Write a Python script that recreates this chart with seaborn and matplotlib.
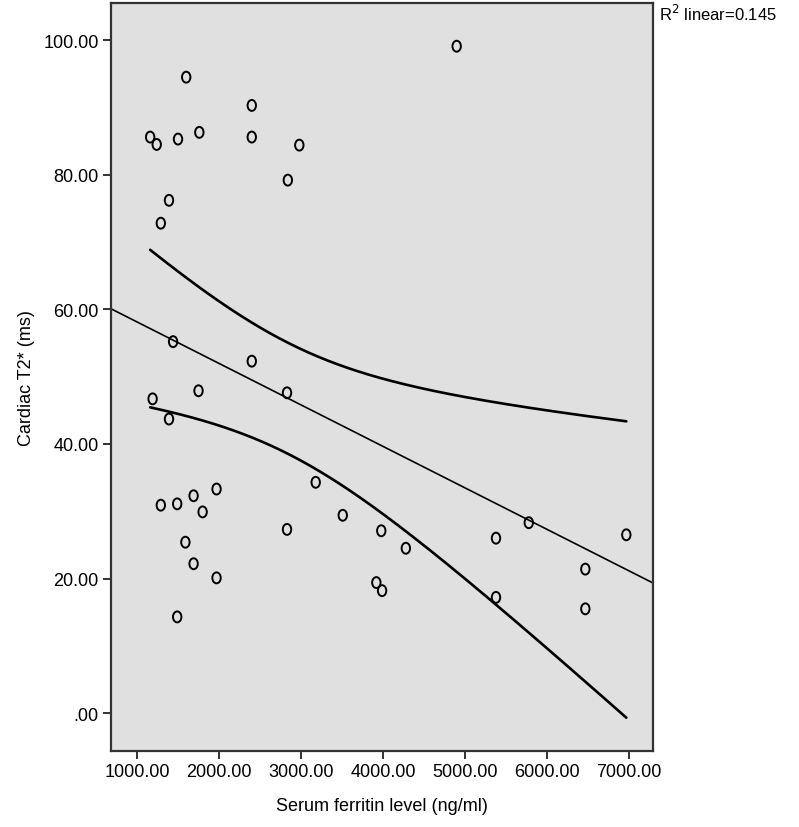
import numpy as np
import pandas as pd
import matplotlib
matplotlib.use("Agg")
import matplotlib.pyplot as plt
from matplotlib.path import Path
import seaborn as sns

# serum ferritin (ng/ml) and cardiac T2* (ms)
ferritin = [4900, 1600, 2400, 1160, 1240, 1500, 1760, 2400, 2980, 2840,
            1390, 1290, 1440, 2400, 2830, 1750, 1190, 1390, 3180, 1290,
            1490, 1690, 1970, 1800, 3510, 2830, 3980, 4280, 5380, 1590,
            1690, 1970, 3920, 3990, 5380, 1490, 5780, 6970, 6470, 6470]
t2star = [99.1, 94.5, 90.3, 85.6, 84.5, 85.3, 86.3, 85.6, 84.4, 79.2,
          76.2, 72.8, 55.2, 52.3, 47.6, 47.9, 46.7, 43.7, 34.3, 30.9,
          31.1, 32.3, 33.3, 29.9, 29.4, 27.3, 27.1, 24.5, 26.0, 25.4,
          22.2, 20.1, 19.4, 18.2, 17.2, 14.3, 28.3, 26.5, 21.4, 15.5]

x_ticks = [1000, 2000, 3000, 4000, 5000, 6000, 7000]
y_ticks = [0, 20, 40, 60, 80, 100]
r2_label = "R$^2$ linear=0.145"

df = pd.DataFrame({"ferritin": ferritin, "t2": t2star})

sns.set_style("white")
plt.rcParams["font.family"] = ["Liberation Sans", "DejaVu Sans"]
plt.rcParams["text.color"] = "black"
plt.rcParams["axes.labelcolor"] = "black"
plt.rcParams["xtick.color"] = "black"
plt.rcParams["ytick.color"] = "black"

fig = plt.figure(figsize=(7.99, 8.28), dpi=100)
ax = fig.add_axes([0.139, 0.092, 0.678, 0.903])
ax.set_facecolor("#e0e0e0")
ax.set_xlim(683, 7293)
ax.set_ylim(-5.6, 105.5)

# slightly tall open circle, like the SPSS marker
circ = Path.unit_circle()
oval = Path(circ.vertices * np.array([1.0, 1.3]), circ.codes)

sns.scatterplot(data=df, x="ferritin", y="t2", ax=ax, marker=oval, s=62,
                facecolor="none", edgecolor="black", linewidth=1.4, zorder=3)

# fit line spanning the whole frame
sns.regplot(data=df, x="ferritin", y="t2", ax=ax, scatter=False, ci=None,
            truncate=False, line_kws={"color": "black", "lw": 1.2})

# 95% confidence band of the mean
x = df["ferritin"].to_numpy(float)
y = df["t2"].to_numpy(float)
n = len(x)
b1, b0 = np.polyfit(x, y, 1)
resid = y - (b0 + b1 * x)
s = np.sqrt((resid ** 2).sum() / (n - 2))
sxx = ((x - x.mean()) ** 2).sum()
xs = np.linspace(x.min(), x.max(), 200)
se = s * np.sqrt(1 / n + (xs - x.mean()) ** 2 / sxx)
tq = 2.024
fit = b0 + b1 * xs
ax.plot(xs, fit + tq * se, color="black", lw=1.9)
ax.plot(xs, fit - tq * se, color="black", lw=1.9)

ax.set_xticks(x_ticks)
ax.set_xticklabels([f"{v:.2f}" for v in x_ticks])
ax.set_yticks(y_ticks)
ax.set_yticklabels([f"{v:.2f}".lstrip("0") if v == 0 else f"{v:.2f}" for v in y_ticks])
ax.tick_params(axis="both", direction="out", length=6, width=1.3, color="#222222",
               labelcolor="black", labelsize=13, pad=3, bottom=True, left=True)

for sp in ax.spines.values():
    sp.set_visible(True)
    sp.set_color("#333333")
    sp.set_linewidth(1.6)

ax.set_xlabel("Serum ferritin level (ng/ml)", fontsize=13, labelpad=12, color="black")
ax.set_ylabel("Cardiac T2* (ms)", fontsize=13, labelpad=6, color="black")

fig.text(659 / 799, 1 - 14 / 828, r2_label, fontsize=12, ha="left", va="center",
         color="black")

fig.savefig("out.png", dpi=100)
